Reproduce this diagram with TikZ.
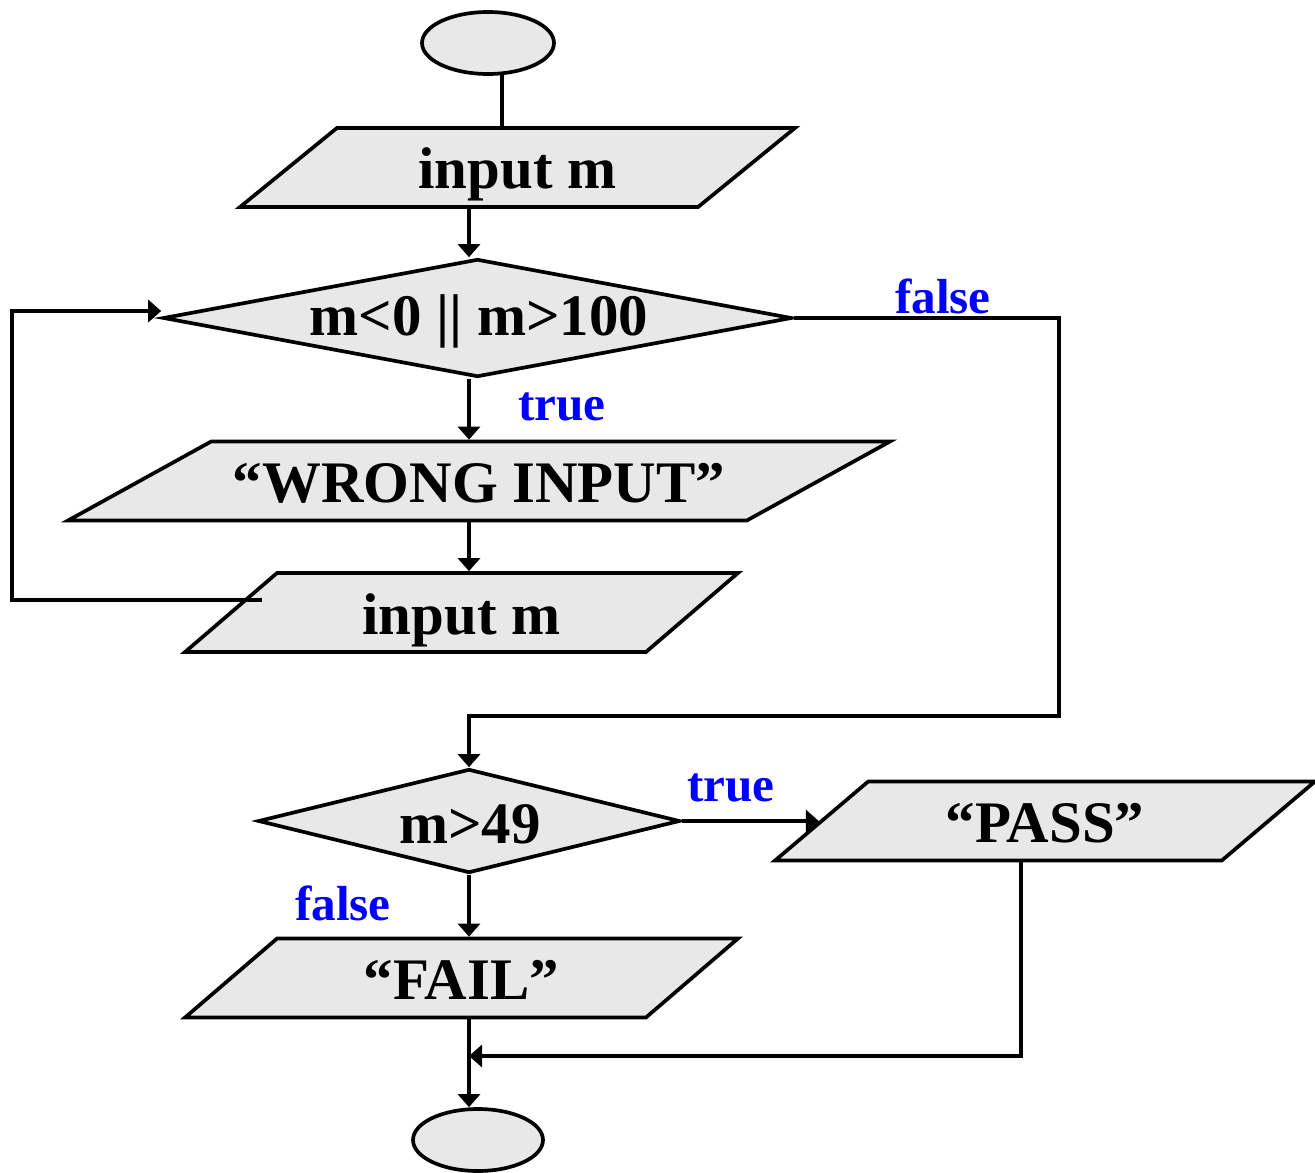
\documentclass[tikz,border=0pt]{standalone}
\usepackage{xcolor}
\usepackage{fontspec}
\setmainfont{Liberation Serif}
\usepackage{tikz}
\usetikzlibrary{shapes.geometric,arrows.meta,positioning}
\definecolor{boxgray}{RGB}{232,232,232}

\begin{document}
\begin{tikzpicture}[
				x = 0.02cm, y = -0.02cm,
				every node/.style = {font = \bfseries\fontsize{33.5}{40}\selectfont},
				flow/.style = {draw, line width = 2.1pt, fill = boxgray},
				term/.style = {flow, ellipse, minimum width = 2.64cm, minimum height = 1.24cm},
				io/.style = {flow, trapezium, trapezium stretches body, inner sep = 0pt, text height = 1.22cm, text depth = 0.36cm},
				cond/.style = {flow, diamond, inner sep = 0pt},
				lbl/.style = {text = blue, font = \bfseries\fontsize{28}{34}\selectfont},
				line/.style = {line width = 2.1pt},
				arr/.style = {line, -{Triangle[length = 0.26cm, width = 0.44cm]}}
				]
				\useasboundingbox (0,0) rectangle (1315,1173);
				
				\node [term] (start) at (488,43) {};
				\node [io, trapezium left angle = 39.2, trapezium right angle = 140.8, minimum width = 11.1cm] (in1) at (517.5,167.5) {input m};
				\node [cond, minimum width = 12.58cm, minimum height = 2.36cm] (c1) at (477.5,318) {};
				\node (c1txt) at (479,321) {m<0 || m>100};
				\node [io, trapezium left angle = 28.9, trapezium right angle = 151.1, minimum width = 16.44cm] (wrong) at (479,481) {“WRONG INPUT”};
				\node [io, trapezium left angle = 40.65, trapezium right angle = 139.35, minimum width = 11.06cm] (in2) at (461.5,612.5) {input m};
				\node [cond, minimum width = 8.44cm, minimum height = 2.08cm] (c2) at (469,821) {};
				\node (c2txt) at (470,824) {m>49};
				\node [io, trapezium left angle = 40.3, trapezium right angle = 139.7, minimum width = 10.8cm] (pass) at (1045,821) {“PASS”};
				\node [io, trapezium left angle = 40.65, trapezium right angle = 139.35, minimum width = 11.06cm] (fail) at (461.5,978) {“FAIL”};
				\node [term, minimum width = 2.6cm] (stop) at (478,1140) {};
				
				\node [lbl] (t1) at (562,407) {true};
				\node [lbl] (f1) at (943,296) {false};
				\node [lbl] (t2) at (731,788) {true};
				\node [lbl] (f2) at (343,903) {false};
				
				\coordinate (axis) at (469,0);
				\coordinate (back) at (262,600);
				\coordinate (rgt) at (1059,716);
				\coordinate (drop) at (1021,0);
				\coordinate (join) at (469,1056);
				
				\draw [line] (start.-67) -- (start.-67 |- in1.north);
				\draw [arr] (in1.south -| axis) -- (c1.north -| axis);
				\draw [arr] (c1.south -| axis) -- (wrong.north -| axis);
				\draw [arr] (wrong.south -| axis) -- (in2.north -| axis);
				\draw [arr, line width = 2.8pt] (back) -- (12,600) |- ([yshift = 0.14cm]c1.west);
				\draw [arr] (c1.east) -| (rgt) -| (c2.north);
				\draw [arr] (c2.east) -- (c2.east -| pass.west);
				\draw [arr] (c2.south) -- (fail.north -| c2.south);
				\draw [arr] (pass.south -| drop) |- (join);
				\draw [arr] (fail.south -| axis) -- (stop.north -| axis);
			\end{tikzpicture}
\end{document}
